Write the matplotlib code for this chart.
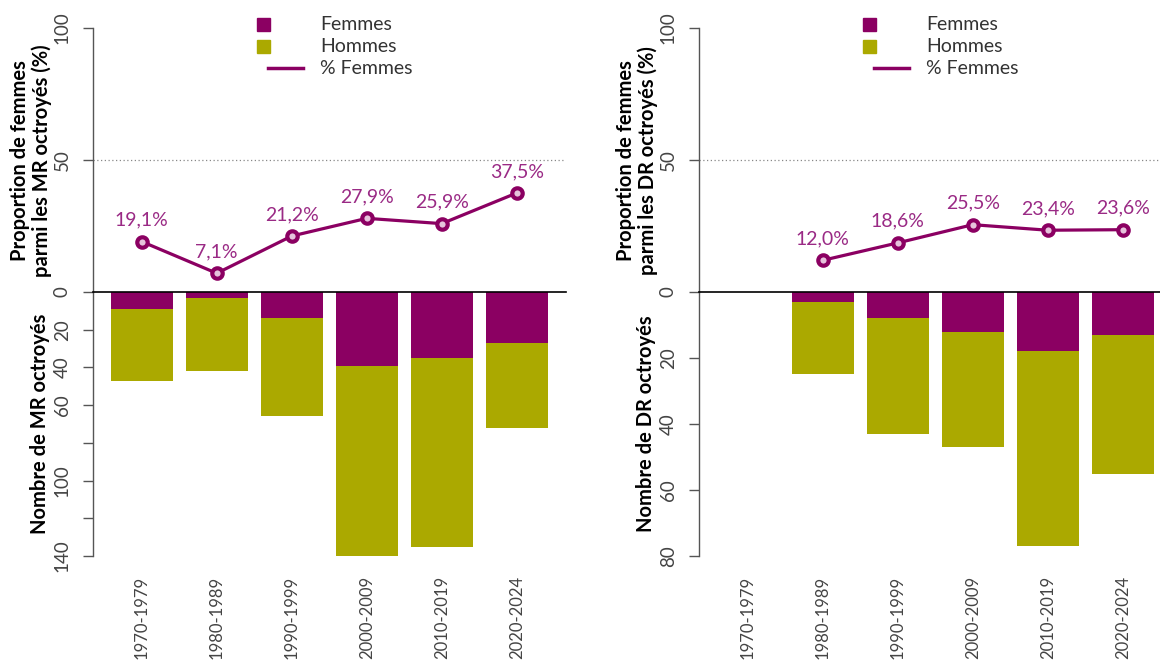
import matplotlib
matplotlib.use("Agg")
import matplotlib.pyplot as plt
from matplotlib.patches import Rectangle
from matplotlib.lines import Line2D
import numpy as np

plt.rcParams['font.family'] = ['Lato', 'DejaVu Sans']

periods = ['1970-1979', '1980-1989', '1990-1999', '2000-2009', '2010-2019', '2020-2024']

mr_femmes = [9, 3, 14, 39, 35, 27]
mr_hommes = [38, 39, 52, 101, 100, 45]
mr_pct = [19.1, 7.1, 21.2, 27.9, 25.9, 37.5]

dr_femmes = [0, 3, 8, 12, 18, 13]
dr_hommes = [0, 22, 35, 35, 59, 42]
dr_pct = [np.nan, 12.0, 18.6, 25.5, 23.4, 23.6]

C_F = '#8B0062'
C_H = '#ABA900'
C_TXT = '#9A2A85'
C_TICK = '#444444'

W, H = 1160, 664
fig = plt.figure(figsize=(W / 100, H / 100), dpi=100)


def px_axes(x0, y0, x1, y1):
    return fig.add_axes([x0 / W, 1 - y1 / H, (x1 - x0) / W, (y1 - y0) / H])


over = fig.add_axes([0, 0, 1, 1])
over.set_xlim(0, W)
over.set_ylim(H, 0)
over.axis('off')


def panel(ox, femmes, hommes, pct, cmax, cticks, clabels, code):
    x = np.arange(len(periods))
    top = px_axes(ox, 28, ox + 472.5, 292)
    bot = px_axes(ox, 292, ox + 472.5, 556)
    for a in (top, bot):
        a.set_xlim(-0.65, 5.65)
        for s in ('top', 'right', 'bottom'):
            a.spines[s].set_visible(False)
        a.spines['left'].set_color('#555555')
        a.spines['left'].set_linewidth(1.0)
        a.patch.set_alpha(0)
        a.tick_params(axis='y', length=7, width=1, color='#555555', pad=9,
                      labelsize=13.5, labelcolor=C_TICK)
        a.tick_params(axis='x', length=0)
    # top: proportion
    top.set_ylim(0, 100)
    top.set_yticks([50, 100])
    top.set_yticklabels(['50', '100'], rotation=90, va='center')
    top.set_xticks([])
    top.axhline(50, color='#888888', lw=0.9, ls=(0, (1, 2)))
    top.plot(x, pct, color=C_F, lw=2.3, marker='o', ms=7.5, mfc='#e6c3dc',
             mec=C_F, mew=3, clip_on=False, zorder=3)
    for xi, p in zip(x, pct):
        if not np.isnan(p):
            top.annotate(f"{p:.1f}%".replace('.', ','), (xi, p),
                         xytext=(0, 15.5), textcoords='offset points',
                         ha='center', va='center', color=C_TXT, fontsize=14)
    # bottom: counts
    bot.set_ylim(cmax, 0)
    bot.bar(x, femmes, width=1 / 1.2, color=C_F, zorder=2)
    bot.bar(x, hommes, width=1 / 1.2, bottom=femmes, color=C_H, zorder=2)
    bot.set_yticks(cticks)
    bot.set_yticklabels(clabels, rotation=90, va='center')
    bot.axhline(0, color='black', lw=1.2, clip_on=False, zorder=4)
    bot.set_xticks(x)
    bot.set_xticklabels(periods, rotation=90, va='top', ha='center',
                        fontsize=12, color=C_TICK)
    bot.tick_params(axis='x', pad=14)

    # axis titles
    over.text(ox - 62, 161, f"Proportion de femmes\nparmi les {code} octroyés (%)",
              rotation=90, ha='center', va='center', fontsize=14.5,
              fontweight='bold', linespacing=1.05, color='black')
    over.text(ox - 53, 424, f"Nombre de {code} octroyés", rotation=90,
              ha='center', va='center', fontsize=14.5, fontweight='bold', color='black')

    # legend
    over.add_patch(Rectangle((ox + 164, 17.5), 13, 13, color=C_F))
    over.add_patch(Rectangle((ox + 164, 39.5), 13, 13, color=C_H))
    over.add_line(Line2D([ox + 175, ox + 210], [68, 68], color=C_F, lw=2.5))
    for yy, lab in zip([24, 46, 68], ['Femmes', 'Hommes', '% Femmes']):
        over.text(ox + 227, yy, lab, ha='left', va='center', fontsize=14,
                  color='#333333')


panel(93, mr_femmes, mr_hommes, mr_pct, 140,
      [0, 20, 40, 60, 80, 100, 120, 140],
      ['0', '20', '40', '60', '', '100', '', '140'], 'MR')
panel(699, dr_femmes, dr_hommes, dr_pct, 80,
      [0, 20, 40, 60, 80], ['0', '20', '40', '60', '80'], 'DR')

fig.savefig('out.png', dpi=100)
